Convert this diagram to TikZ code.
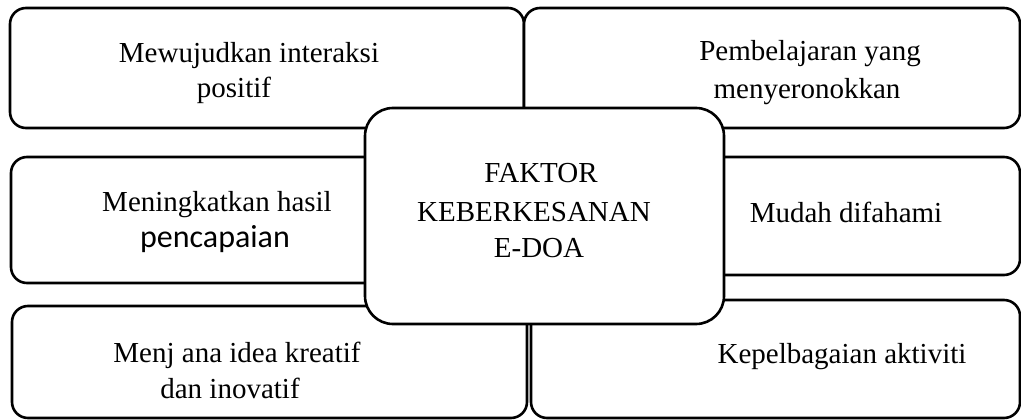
\documentclass[tikz,border=0pt]{standalone}
\usepackage{fontspec}
\setmainfont{Liberation Serif}
\newfontfamily\calibrifont{Carlito}
\begin{document}
\begin{tikzpicture}[x=1pt,y=-1pt,
  box/.style={draw=black, fill=white, line width=2.6pt, rounded corners=16pt, inner sep=0pt},
  hub/.style={draw=black, fill=white, line width=2.6pt, rounded corners=28pt, inner sep=0pt},
  txt/.style={anchor=base, inner sep=0pt, font=\fontsize{29}{35}\selectfont},
  txtsans/.style={anchor=base, inner sep=0pt, font=\fontsize{32}{35}\selectfont\calibrifont}]
\useasboundingbox (0,0) rectangle (1021,420);
\clip (0,0) rectangle (1021,420);
% outer boxes
\node[box, minimum width=514pt, minimum height=120pt] (tl) at (267,68) {};
\node[box, minimum width=496pt, minimum height=120pt] (tr) at (772,68) {};
\node[box, minimum width=511pt, minimum height=126pt] (ml) at (266.5,220) {};
\node[box, minimum width=496pt, minimum height=118pt] (mr) at (772,216) {};
\node[box, minimum width=515pt, minimum height=112pt] (bl) at (269.5,362) {};
\node[box, minimum width=489pt, minimum height=118pt] (br) at (775.5,359) {};
% central box
\node[hub, minimum width=359pt, minimum height=216pt] (hubbox) at (544.5,216) {};
% texts
\node[txt] (t1a) at (249,63) {Mewujudkan interaksi};
\node[txt] (t1b) at (234,98) {positif};
\node[txt] (t2a) at (810,61) {Pembelajaran yang};
\node[txt] (t2b) at (807,99) {menyeronokkan};
\node[txt] (t3a) at (217,211) {Meningkatkan hasil};
\node[txtsans] (t3b) at (215,247) {pencapaian};
\node[txt] (c1) at (541,182) {FAKTOR};
\node[txt] (c2) at (534,221) {KEBERKESANAN};
\node[txt] (c3) at (539,257) {E-DOA};
\node[txt] (t4) at (846,222) {Mudah difahami};
\node[txt] (t5a) at (237,362) {Menj ana idea kreatif};
\node[txt] (t5b) at (230,398) {dan inovatif};
\node[txt] (t6) at (842,363) {Kepelbagaian aktiviti};
\end{tikzpicture}
\end{document}
